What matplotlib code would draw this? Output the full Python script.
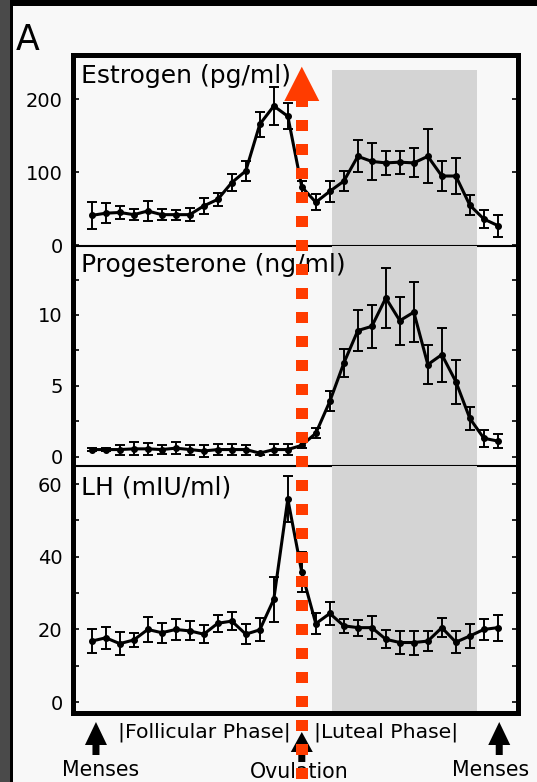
import numpy as np
import matplotlib
matplotlib.use("Agg")
import matplotlib.pyplot as plt
from matplotlib.patches import Polygon, Rectangle
from matplotlib.lines import Line2D

# ---------------- data ----------------
days = np.arange(30)

estrogen = [41, 44, 45, 42, 47, 42, 42, 42, 54, 63, 86, 102, 166, 191, 177,
            80, 59, 74, 88, 122, 115, 113, 114, 113, 122, 95, 95, 55, 36, 27]
estrogen_err = [19, 14, 9, 8, 14, 8, 7, 9, 11, 9, 12, 14, 17, 26, 18,
                8, 11, 14, 14, 22, 25, 16, 16, 20, 37, 20, 25, 14, 12, 15]

progesterone = [0.5, 0.5, 0.5, 0.55, 0.55, 0.5, 0.6, 0.5, 0.4, 0.5, 0.5, 0.5,
                0.25, 0.5, 0.5, 0.8, 1.65, 3.9, 6.6, 8.9, 9.2, 11.2, 9.6, 10.2,
                6.5, 7.2, 5.3, 2.7, 1.3, 1.1]
progesterone_err = [0.1, 0.1, 0.35, 0.45, 0.4, 0.3, 0.4, 0.35, 0.4, 0.4, 0.4,
                    0.35, 0.1, 0.4, 0.4, 0.2, 0.35, 0.7, 1.0, 1.45, 1.5, 2.1,
                    1.7, 2.1, 1.4, 1.9, 1.55, 0.8, 0.6, 0.5]

lh = [16.8, 17.7, 16.1, 17.1, 20.0, 19.1, 20.0, 19.6, 18.7, 21.7, 22.3, 18.7,
      19.9, 28.3, 55.9, 35.7, 21.6, 24.4, 21.0, 20.5, 20.5, 17.3, 16.4, 16.4,
      16.8, 20.5, 16.5, 18.2, 20.0, 20.5]
lh_err = [3.2, 3.0, 3.2, 2.0, 3.5, 2.8, 2.8, 2.6, 2.4, 2.4, 2.4, 2.8, 3.2, 6.2,
          6.3, 5.5, 2.8, 3.2, 2.0, 2.2, 3.1, 2.5, 3.2, 3.3, 2.8, 2.6, 3.0, 3.4,
          2.9, 3.6]

titles = ["Estrogen (pg/ml)", "Progesterone (ng/ml)", "LH (mIU/ml)"]
major_ticks = [[0, 100, 200], [0, 5, 10], [0, 20, 40, 60]]
minor_ticks = [[], [2.5, 7.5, 12.5], [10, 30, 50]]
ylims = [(-1, 261), (-0.66, 14.87), (-3.0, 65.0)]

luteal_span = (17.14, 27.49)      # shaded luteal phase (day units)
shade_top_estrogen = 240           # shading starts below top in first panel
ovulation_day = 15.0
menses_days = [0.3, 29.1]

RED = "#ff3c00"
BG = "#f8f8f8"
SHADE = "#d4d4d4"

# ---------------- figure ----------------
W, H = 537, 782
fig = plt.figure(figsize=(W / 100, H / 100), dpi=100, facecolor=BG)


def fx(px):
    return px / W


def fy(py):
    return 1 - py / H


left_px, right_px = 73, 518
bounds = [(55, 246), (246, 466), (466, 713)]
series = [(estrogen, estrogen_err), (progesterone, progesterone_err), (lh, lh_err)]
title_offsets = [19.9, 18.5, 20.2]

axes = []
for i, (top, bot) in enumerate(bounds):
    ax = fig.add_axes([fx(left_px), fy(bot), fx(right_px) - fx(left_px), (bot - top) / H])
    ax.set_facecolor("none")
    ax.set_xlim(-1.34, 30.44)
    ax.set_ylim(*ylims[i])
    ax.set_xticks([])
    ax.set_yticks(major_ticks[i])
    ax.set_yticks(minor_ticks[i], minor=True)
    ax.tick_params(axis="y", which="both", direction="in", length=4, width=1.2,
                   left=True, right=True, labelsize=14, pad=7.5, labelcolor="black")
    ax.tick_params(axis="y", which="minor", labelleft=False)

    # shading
    if i == 0:
        frac = (shade_top_estrogen - ylims[0][0]) / (ylims[0][1] - ylims[0][0])
        ax.axvspan(*luteal_span, ymin=0, ymax=frac, color=SHADE, lw=0, zorder=0)
    else:
        ax.axvspan(*luteal_span, color=SHADE, lw=0, zorder=0)

    vals, errs = series[i]
    ax.errorbar(days, vals, yerr=errs, color="black", lw=2.2, marker="o", ms=4,
                capsize=3.6, elinewidth=1.4, capthick=1.4, zorder=3)

    ax.annotate(titles[i], xy=(0, 1), xycoords="axes fraction",
                xytext=(5.8, -title_offsets[i]), textcoords="offset points",
                va="baseline", ha="left", fontsize=18, color="black")

    for s in ("left", "right"):
        ax.spines[s].set_linewidth(3.6)
    ax.spines["top"].set_linewidth(3.6 if i == 0 else 1.5)
    ax.spines["bottom"].set_linewidth(3.6 if i == 2 else 1.5)
    if i > 0:
        ax.spines["top"].set_visible(False)
    axes.append(ax)

# ---------------- frame of the screenshot ----------------
fig.add_artist(Rectangle((0, fy(6)), 1, 6 / H, transform=fig.transFigure,
                         color="black", lw=0, zorder=20))
fig.add_artist(Rectangle((0, 0), fx(10), 1, transform=fig.transFigure,
                         color="#4a4a4a", lw=0, zorder=20))
fig.add_artist(Rectangle((fx(10), 0), fx(3), 1, transform=fig.transFigure,
                         color="black", lw=0, zorder=20))

fig.text(fx(16), fy(50), "A", fontsize=25, va="baseline", ha="left")

# ---------------- bottom annotations ----------------
ax3 = axes[2]


def day_px(d):
    return ax3.transData.transform((d, 0))[0]


def up_arrow(xp, tip, head_base, stem_bot, hw=11, sw=3.5):
    pts = [(xp, tip), (xp + hw, head_base), (xp + sw, head_base), (xp + sw, stem_bot),
           (xp - sw, stem_bot), (xp - sw, head_base), (xp - hw, head_base)]
    pts = [(fx(x), fy(y)) for x, y in pts]
    fig.add_artist(Polygon(pts, closed=True, transform=fig.transFigure,
                           facecolor="black", edgecolor="none", zorder=5))


for d in menses_days:
    up_arrow(day_px(d), 722, 745, 755)
up_arrow(day_px(ovulation_day), 732, 752, 762)

fig.text(fx(204.5), fy(737), "|Follicular Phase|", fontsize=14.7, ha="center", va="baseline")
fig.text(fx(386.5), fy(737), "|Luteal Phase|", fontsize=14.7, ha="center", va="baseline")
fig.text(fx(101), fy(776.5), "Menses", fontsize=14.8, ha="center", va="baseline")
fig.text(fx(491), fy(776.5), "Menses", fontsize=14.8, ha="center", va="baseline")
fig.text(fx(299), fy(778), "Ovulation", fontsize=14.8, ha="center", va="baseline")

# ---------------- red ovulation marker ----------------
xo = day_px(ovulation_day)
lw_px = 12
fig.add_artist(Line2D([fx(xo), fx(xo)], [fy(96), fy(800)], transform=fig.transFigure,
                      color=RED, lw=lw_px * 0.72, dashes=(11 / 12, 13 / 12),
                      dash_capstyle="butt", zorder=30))
head = [(xo, 66.7), (xo + 17.5, 101), (xo - 17.5, 101)]
fig.add_artist(Polygon([(fx(x), fy(y)) for x, y in head], closed=True,
                       transform=fig.transFigure, facecolor=RED, edgecolor="none",
                       zorder=31))

fig.savefig("out.png", dpi=100, facecolor=BG)
